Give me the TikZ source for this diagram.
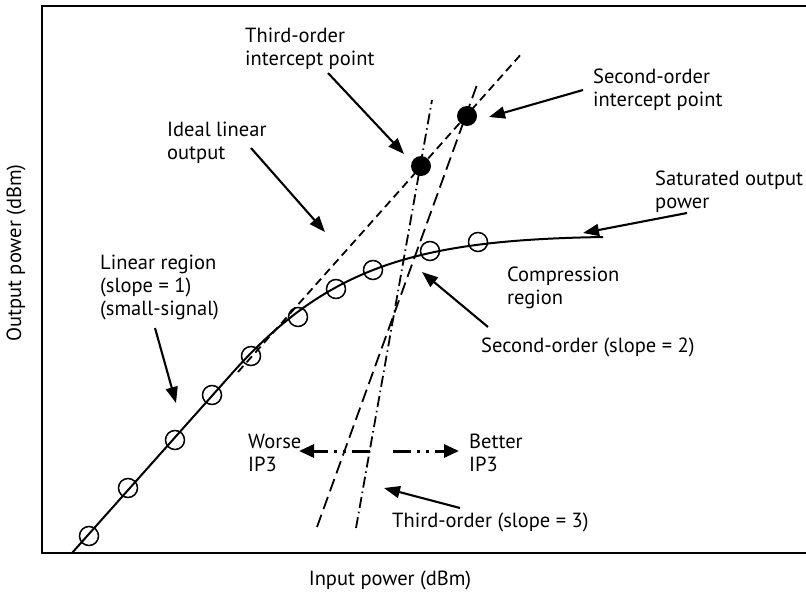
\documentclass[tikz,border=0pt]{standalone}
\usepackage{fontspec}
\setmainfont{PT Sans}
\usetikzlibrary{arrows.meta}

\begin{document}
\begin{tikzpicture}[
        x=1pt, y=-1pt,
        every node/.style={font=\fontsize{20.5}{23}\selectfont},
        label_text/.style={anchor=west, align=left, inner sep=0pt, yshift=-2pt},
        frame/.style={line width=2.6pt},
        response/.style={line width=2pt},
        marker/.style={circle, draw, line width=1.5pt, minimum size=19pt, inner sep=0pt},
        intercept/.style={circle, fill=black, minimum size=20pt, inner sep=0pt},
        ideal/.style={line width=1.8pt, dash pattern=on 8pt off 5pt},
        second/.style={line width=1.8pt, dash pattern=on 13pt off 6pt},
        third/.style={line width=1.8pt, dash pattern=on 11pt off 4pt on 1.5pt off 4pt},
        pointer/.style={line width=2.1pt, -{Triangle[length=16pt, width=12pt]}},
        ip3_arrow/.style={line width=3pt, dash pattern=on 18pt off 6pt on 3pt off 6pt on 3pt off 6pt, -{Triangle[length=15pt, width=13pt]}}
    ]
        \useasboundingbox (0,0) rectangle (806,597);

        % Frame (right side runs off the page)
        \draw[frame] (810,6) -- (42,6) -- (42,553) -- (810,553);

        % Response curve and measured points
        \draw[response] (72,553) -- (235,370) .. controls (330,265) and (420,240) .. (603,237);
        \foreach \px/\py [count=\i] in {89/536, 128/488, 175/440, 212/395, 251/356,
                298/317, 336/289, 373/270, 430/251, 478/242}
            \node[marker] (m\i) at (\px,\py) {};

        % Extrapolated lines
        \coordinate (ideal_lo) at (238,372);
        \coordinate (ideal_hi) at (523,52);
        \coordinate (second_lo) at (317,527);
        \coordinate (second_hi) at (478,82);
        \coordinate (third_lo) at (356,528);
        \coordinate (third_hi) at (432,100);
        \draw[ideal] (ideal_lo) -- (ideal_hi);
        \draw[second] (second_lo) -- (second_hi);
        \draw[third] (third_lo) -- (third_hi);

        % Intercept points
        \node[intercept] (ip3) at (421,166) {};
        \node[intercept] (ip2) at (467,116) {};

        % Labels
        \node[label_text] (ip3_lbl) at (245,47) {Third-order\\intercept point};
        \node[label_text] (ideal_lbl) at (167,141) {Ideal linear\\output};
        \node[label_text] (lin_lbl) at (100,285) {Linear region\\(slope = 1)\\(small-signal)};
        \node[label_text] (ip2_lbl) at (593,88) {Second-order\\intercept point};
        \node[label_text] (sat_lbl) at (655,190) {Saturated output\\power};
        \node[label_text] (comp_lbl) at (507,286) {Compression\\region};
        \node[label_text] (so_lbl) at (481,345) {Second-order (slope = 2)};
        \node[label_text] (worse_lbl) at (248,451) {Worse\\IP3};
        \node[label_text] (better_lbl) at (469,451) {Better\\IP3};
        \node[label_text] (to_lbl) at (392,520) {Third-order (slope = 3)};
        \node (x_lbl) at (390,580) {Input power (dBm)};
        \node[rotate=90] (y_lbl) at (16,253) {Output power (dBm)};

        % Pointer arrows
        \coordinate (ip3_tail) at (328,73);     \coordinate (ip3_head) at (404,154);
        \coordinate (ideal_tail) at (251,148);  \coordinate (ideal_head) at (325,232);
        \coordinate (lin_tail) at (155,328);    \coordinate (lin_head) at (176,403);
        \coordinate (ip2_tail) at (583,90);     \coordinate (ip2_head) at (489,117);
        \coordinate (sat_tail) at (687,213);    \coordinate (sat_head) at (583,233);
        \coordinate (so_tail) at (488,327);     \coordinate (so_head) at (422,272);
        \coordinate (to_tail) at (460,508);     \coordinate (to_head) at (384,488);
        \draw[pointer] (ip3_tail) -- (ip3_head);
        \draw[pointer] (ideal_tail) -- (ideal_head);
        \draw[pointer] (lin_tail) -- (lin_head);
        \draw[pointer] (ip2_tail) -- (ip2_head);
        \draw[pointer] (sat_tail) -- (sat_head);
        \draw[pointer] (so_tail) -- (so_head);
        \draw[pointer] (to_tail) -- (to_head);

        % Worse / better IP3
        \coordinate (worse_start) at (370,451); \coordinate (worse_head) at (299,451);
        \coordinate (better_start) at (393,451); \coordinate (better_head) at (459,451);
        \draw[ip3_arrow] (worse_start) -- (worse_head);
        \draw[ip3_arrow] (better_start) -- (better_head);

    \end{tikzpicture}
\end{document}
